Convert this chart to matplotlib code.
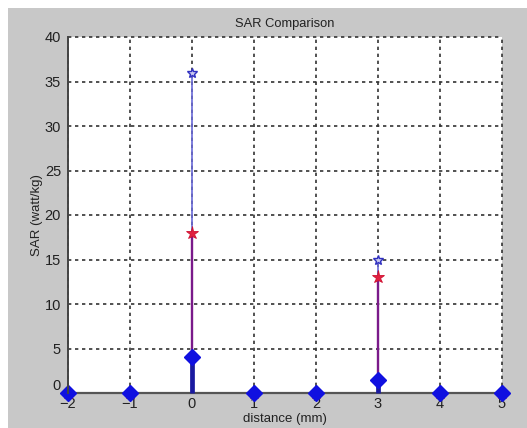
import matplotlib
matplotlib.use("Agg")
import matplotlib.pyplot as plt
from matplotlib.patches import Rectangle

distance = [-2, -1, 0, 1, 2, 3, 4, 5]
sar_blue_star = [0, 0, 36, 0, 0, 15, 0, 0]
sar_red_star = [0, 0, 18, 0, 0, 13, 0, 0]
sar_diamond = [0, 0, 4, 0, 0, 1.5, 0, 0]
xticks = [-2, -1, 0, 1, 2, 3, 4, 5]
yticks = [0, 5, 10, 15, 20, 25, 30, 35, 40]

plt.rcParams['font.family'] = ['Liberation Sans', 'DejaVu Sans']

W, H = 527, 428
fig = plt.figure(figsize=(W / 100, H / 100), dpi=100)
fig.patch.set_facecolor('white')
fig.patches.append(Rectangle((8 / W, 0), 1, (H - 8) / H, transform=fig.transFigure,
                             facecolor='#c8c8c8', edgecolor='none', zorder=-10))

ax = fig.add_axes([68 / W, (H - 393) / H, (502 - 68) / W, (393 - 37) / H])
ax.set_facecolor('white')

grid_kw = dict(color='#333333', linestyle=(0, (2, 2.2)), linewidth=1.2, zorder=1)
for x in xticks:
    ax.axvline(x, **grid_kw)
for y in yticks:
    ax.axhline(y, **grid_kw)

# blue star stems
m, s, b = ax.stem(distance, sar_blue_star, basefmt=' ')
plt.setp(s, color='#6a6ad8', linewidth=1.2, zorder=3)
plt.setp(m, marker='*', markersize=7, markerfacecolor='#c8c8f0', markeredgecolor='#3030c0',
         markeredgewidth=1.0, zorder=4)

# red star stems
m, s, b = ax.stem(distance, sar_red_star, basefmt=' ')
plt.setp(s, color='#7a1a8a', linewidth=1.7, zorder=3.2)
plt.setp(m, marker='*', markersize=9.5, markerfacecolor='#e02040', markeredgecolor='#d01030',
         markeredgewidth=0.6, zorder=4.2)

# diamond stems
m, s, b = ax.stem(distance, sar_diamond, basefmt=' ')
plt.setp(s, color='#1a1aa0', linewidth=3.4, zorder=3.4)
plt.setp(m, marker='D', markersize=8.5, markerfacecolor='#1010e0', markeredgecolor='#1010e0',
         zorder=4.4)

ax.axhline(0, color='#555555', linewidth=1.6, zorder=3.1)

ax.set_xlim(-2, 5)
ax.set_ylim(0, 40)
ax.set_xticks(xticks)
ax.set_yticks(yticks)
ax.tick_params(length=0, labelsize=10.5, colors='#222222')
ax.tick_params(axis='x', pad=3)
ax.tick_params(axis='y', pad=5)
for sp in ['top', 'right', 'bottom']:
    ax.spines[sp].set_visible(False)
ax.spines['left'].set_color('#444444')
ax.spines['left'].set_linewidth(1.4)
ax.spines['left'].set_zorder(5)

ax.set_title('SAR Comparison', fontsize=9.3, color='#222222', pad=7)
ax.set_xlabel('distance (mm)', fontsize=9.5, color='#222222', labelpad=1)
ax.set_ylabel('SAR (watt/kg)', fontsize=9.5, color='#222222', labelpad=1)

yl = ax.get_yticklabels()
yl[0].set_verticalalignment('bottom')

for line in ax.lines:
    line.set_clip_on(False)
for coll in ax.collections:
    coll.set_clip_on(False)

fig.savefig('out.png', dpi=100, facecolor=fig.get_facecolor())
